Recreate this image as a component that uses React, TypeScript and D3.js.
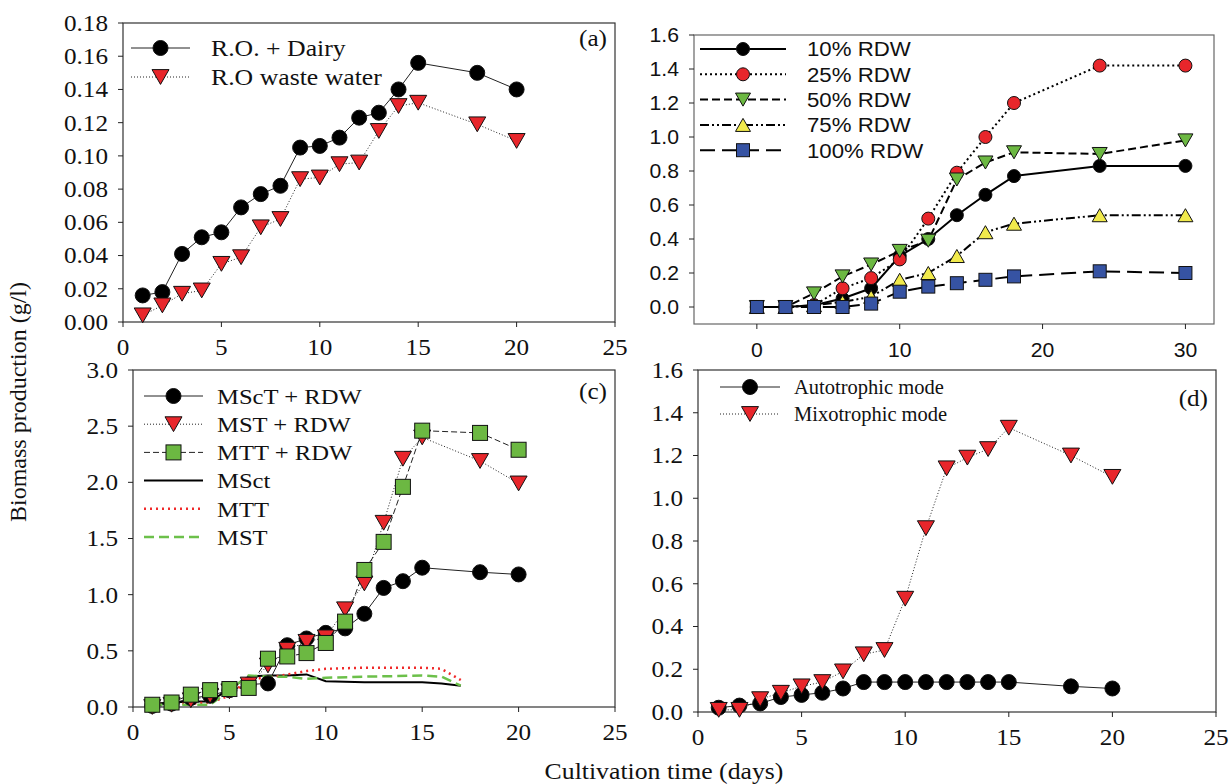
import React from 'react';
import * as d3 from 'd3';

const SERIF = '"Liberation Serif", "Times New Roman", serif';
const SANS = '"Liberation Sans", Arial, sans-serif';
const SX = 1.12; // the figure is a bit wider than tall, text too

const RED = '#e8262b';
const GREEN = '#6cb842';
const YELLOW = '#f1ea4c';
const BLUE = '#3653a3';

// (a)
const daysA = [1, 2, 3, 4, 5, 6, 7, 8, 9, 10, 11, 12, 13, 14, 15, 18, 20];
const roDairy = [0.016, 0.018, 0.041, 0.051, 0.054, 0.069, 0.077, 0.082, 0.105, 0.106, 0.111, 0.123, 0.126, 0.140, 0.156, 0.150, 0.140];
const roWaste = [0.004, 0.010, 0.017, 0.019, 0.035, 0.039, 0.057, 0.062, 0.086, 0.087, 0.095, 0.096, 0.115, 0.130, 0.132, 0.119, 0.109];

// (b)
const daysB = [0, 2, 4, 6, 8, 10, 12, 14, 16, 18, 24, 30];
const rdw10 = [0.0, 0.0, 0.01, 0.05, 0.11, 0.30, 0.40, 0.54, 0.66, 0.77, 0.83, 0.83];
const rdw25 = [0.0, 0.0, 0.01, 0.11, 0.17, 0.28, 0.52, 0.79, 1.00, 1.20, 1.42, 1.42];
const rdw50 = [0.0, 0.0, 0.08, 0.18, 0.25, 0.33, 0.39, 0.75, 0.85, 0.91, 0.90, 0.98];
const rdw75 = [0.0, 0.0, 0.01, 0.03, 0.06, 0.16, 0.20, 0.30, 0.44, 0.49, 0.54, 0.54];
const rdw100 = [0.0, 0.0, 0.0, 0.0, 0.02, 0.09, 0.12, 0.14, 0.16, 0.18, 0.21, 0.20];

// (c)
const daysC = daysA;
const msctRdw = [0.01, 0.03, 0.08, 0.10, 0.15, 0.20, 0.21, 0.55, 0.61, 0.66, 0.70, 0.83, 1.06, 1.12, 1.24, 1.20, 1.18];
const mstRdw = [0.0, 0.02, 0.06, 0.10, 0.14, 0.20, 0.37, 0.51, 0.58, 0.62, 0.87, 1.10, 1.64, 2.21, 2.40, 2.19, 1.99];
const mttRdw = [0.02, 0.04, 0.11, 0.15, 0.16, 0.17, 0.43, 0.45, 0.48, 0.57, 0.76, 1.22, 1.47, 1.96, 2.46, 2.44, 2.29];
const daysCtl = [1, 2, 3, 4, 5, 6, 7, 8, 9, 10, 12, 15, 16, 17];
const msctCtl = [0.03, 0.04, 0.05, 0.05, 0.16, 0.27, 0.28, 0.28, 0.29, 0.23, 0.22, 0.22, 0.21, 0.19];
const mttCtl = [0.03, 0.03, 0.03, 0.04, 0.10, 0.25, 0.26, 0.29, 0.32, 0.34, 0.35, 0.35, 0.34, 0.24];
const mstCtl = [0.02, 0.02, 0.02, 0.02, 0.15, 0.28, 0.27, 0.27, 0.25, 0.26, 0.27, 0.28, 0.27, 0.19];

// (d)
const daysD = daysA;
const autoMode = [0.02, 0.03, 0.04, 0.07, 0.08, 0.09, 0.11, 0.14, 0.14, 0.14, 0.14, 0.14, 0.14, 0.14, 0.14, 0.12, 0.11];
const mixoMode = [0.01, 0.01, 0.06, 0.09, 0.12, 0.14, 0.19, 0.27, 0.29, 0.53, 0.86, 1.14, 1.19, 1.23, 1.33, 1.20, 1.10];

type Series = {
  name: string;
  x: number[];
  y: number[];
  marker?: 'circle' | 'down' | 'up' | 'square';
  fill?: string;
  color: string;
  width: number;
  dash?: string;
  size?: number;
};

function Marker({ kind, cx, cy, size, fill }: any) {
  const common = { fill, stroke: '#111', strokeWidth: 1 };
  if (kind === 'circle') return <circle cx={cx} cy={cy} r={size / 2} {...common} />;
  if (kind === 'square')
    return <rect x={cx - size / 2} y={cy - size / 2} width={size} height={size} {...common} />;
  const h = size * 0.87;
  const s = size / 2;
  const d = kind === 'down'
    ? `M${cx - s},${cy - h / 2}L${cx + s},${cy - h / 2}L${cx},${cy + h / 2}Z`
    : `M${cx - s},${cy + h / 2}L${cx + s},${cy + h / 2}L${cx},${cy - h / 2}Z`;
  return <path d={d} {...common} />;
}

function Txt({ x, y, children, font, fs, anchor = 'start', sx = SX }: any) {
  return (
    <text
      transform={`translate(${x},${y}) scale(${sx},1)`}
      textAnchor={anchor}
      fontFamily={font}
      fontSize={fs}
      fill="#111"
    >
      {children}
    </text>
  );
}

function Panel(props: any) {
  const { box, xDomain, yDomain, xTicks, yTicks, yFmt, font, fs, sx, series, legend, tag, frame } = props;
  const x = d3.scaleLinear().domain(xDomain).range([box.left, box.right]);
  const y = d3.scaleLinear().domain(yDomain).range([box.bottom, box.top]);
  const line = d3.line<number>();
  const fmt = d3.format(yFmt);
  const tick = 5;

  return (
    <g>
      <rect
        x={box.left}
        y={box.top}
        width={box.right - box.left}
        height={box.bottom - box.top}
        fill="none"
        stroke={frame}
        strokeWidth={1.2}
      />
      {yTicks.map((t: number) => (
        <g key={'y' + t}>
          <line x1={box.left - tick} x2={box.left} y1={y(t)} y2={y(t)} stroke="#222" />
          <Txt x={box.left - 15} y={y(t) + fs * 0.35} font={font} fs={fs} sx={sx} anchor="end">
            {fmt(t)}
          </Txt>
        </g>
      ))}
      {xTicks.map((t: number) => (
        <g key={'x' + t}>
          <line x1={x(t)} x2={x(t)} y1={box.bottom} y2={box.bottom + tick} stroke="#222" />
          <Txt x={x(t)} y={box.bottom + 33} font={font} fs={fs} sx={sx} anchor="middle">
            {t}
          </Txt>
        </g>
      ))}
      {series.map((s: Series) => (
        <path
          key={'l' + s.name}
          d={line.x((_, i) => x(s.x[i])).y((v) => y(v))(s.y) || ''}
          fill="none"
          stroke={s.color}
          strokeWidth={s.width}
          strokeDasharray={s.dash}
        />
      ))}
      {series.map((s: Series) =>
        s.marker
          ? s.y.map((v, i) => (
              <Marker
                key={s.name + i}
                kind={s.marker}
                cx={x(s.x[i])}
                cy={y(v)}
                size={s.size}
                fill={s.fill}
              />
            ))
          : null
      )}
      {series.map((s: Series, i: number) => {
        const ly = legend.y + i * legend.dy;
        return (
          <g key={'g' + s.name}>
            <line
              x1={legend.x0}
              x2={legend.x1}
              y1={ly}
              y2={ly}
              stroke={s.color}
              strokeWidth={s.width}
              strokeDasharray={s.dash}
            />
            {s.marker && (
              <Marker kind={s.marker} cx={(legend.x0 + legend.x1) / 2} cy={ly} size={s.size} fill={s.fill} />
            )}
            <Txt x={legend.tx} y={ly + legend.fs * 0.35} font={font} fs={legend.fs} sx={legend.sx ?? sx}>
              {s.name}
            </Txt>
          </g>
        );
      })}
      {tag && (
        <Txt x={box.right - 8} y={tag.y} font={SERIF} fs={fs} sx={sx} anchor="end">
          {tag.text}
        </Txt>
      )}
    </g>
  );
}

const seriesA: Series[] = [
  { name: 'R.O. + Dairy', x: daysA, y: roDairy, marker: 'circle', fill: '#000', color: '#222', width: 1, size: 15 },
  { name: 'R.O waste water', x: daysA, y: roWaste, marker: 'down', fill: RED, color: '#222', width: 1, dash: '1,2', size: 17 },
];

const seriesB: Series[] = [
  { name: '10% RDW', x: daysB, y: rdw10, marker: 'circle', fill: '#000', color: '#000', width: 2, size: 13 },
  { name: '25% RDW', x: daysB, y: rdw25, marker: 'circle', fill: RED, color: '#000', width: 2, dash: '2,3', size: 13 },
  { name: '50% RDW', x: daysB, y: rdw50, marker: 'down', fill: GREEN, color: '#000', width: 2, dash: '8,4', size: 15 },
  { name: '75% RDW', x: daysB, y: rdw75, marker: 'up', fill: YELLOW, color: '#000', width: 2, dash: '9,3,2,3,2,3', size: 15 },
  { name: '100% RDW', x: daysB, y: rdw100, marker: 'square', fill: BLUE, color: '#000', width: 2, dash: '15,7', size: 13 },
];

const seriesC: Series[] = [
  { name: 'MScT + RDW', x: daysC, y: msctRdw, marker: 'circle', fill: '#000', color: '#222', width: 1, size: 15 },
  { name: 'MST + RDW', x: daysC, y: mstRdw, marker: 'down', fill: RED, color: '#222', width: 1, dash: '1,2', size: 17 },
  { name: 'MTT + RDW', x: daysC, y: mttRdw, marker: 'square', fill: GREEN, color: '#222', width: 1, dash: '6,3', size: 15 },
  { name: 'MSct', x: daysCtl, y: msctCtl, color: '#000', width: 2 },
  { name: 'MTT', x: daysCtl, y: mttCtl, color: '#f02a2a', width: 2.5, dash: '2,4' },
  { name: 'MST', x: daysCtl, y: mstCtl, color: '#6cc04a', width: 2.5, dash: '10,5' },
];

const seriesD: Series[] = [
  { name: 'Autotrophic mode', x: daysD, y: autoMode, marker: 'circle', fill: '#000', color: '#222', width: 1, size: 15 },
  { name: 'Mixotrophic mode', x: daysD, y: mixoMode, marker: 'down', fill: RED, color: '#222', width: 1, dash: '1,2', size: 17 },
];

const days25 = [0, 5, 10, 15, 20, 25];

export default function App() {
  return (
    <svg
      width={1230}
      height={784}
      style={{ position: 'absolute', left: 0, top: 0, background: '#fff' }}
    >
      <Panel
        box={{ left: 123, right: 615, top: 23, bottom: 322 }}
        xDomain={[0, 25]}
        yDomain={[0, 0.18]}
        xTicks={days25}
        yTicks={d3.range(0, 0.181, 0.02)}
        yFmt=".2f"
        font={SERIF}
        fs={22.5}
        sx={SX}
        frame="#333"
        series={seriesA}
        legend={{ x0: 131, x1: 190, tx: 211, y: 48, dy: 29, fs: 23 }}
        tag={{ text: '(a)', y: 46 }}
      />
      <Panel
        box={{ left: 694, right: 1214, top: 35, bottom: 324 }}
        xDomain={[-4.4, 32]}
        yDomain={[-0.1, 1.6]}
        xTicks={[0, 10, 20, 30]}
        yTicks={d3.range(0, 1.61, 0.2)}
        yFmt=".1f"
        font={SANS}
        fs={20}
        sx={1.06}
        frame="#666"
        series={seriesB}
        legend={{ x0: 700, x1: 786, tx: 807, y: 49, dy: 25.3, fs: 21 }}
      />
      <Panel
        box={{ left: 133, right: 615, top: 370, bottom: 707 }}
        xDomain={[0, 25]}
        yDomain={[0, 3]}
        xTicks={days25}
        yTicks={d3.range(0, 3.01, 0.5)}
        yFmt=".1f"
        font={SERIF}
        fs={22.5}
        sx={SX}
        frame="#333"
        series={seriesC}
        legend={{ x0: 144, x1: 203, tx: 217, y: 396, dy: 28.2, fs: 22 }}
        tag={{ text: '(c)', y: 399 }}
      />
      <Panel
        box={{ left: 698, right: 1216, top: 370, bottom: 712 }}
        xDomain={[0, 25]}
        yDomain={[0, 1.6]}
        xTicks={days25}
        yTicks={d3.range(0, 1.61, 0.2)}
        yFmt=".1f"
        font={SERIF}
        fs={22.5}
        sx={SX}
        frame="#333"
        series={seriesD}
        legend={{ x0: 720, x1: 780, tx: 794, y: 387, dy: 27, fs: 20.5, sx: 1.0 }}
        tag={{ text: '(d)', y: 406 }}
      />
      <text
        transform="translate(26,402) rotate(-90)"
        textAnchor="middle"
        fontFamily={SERIF}
        fontSize={24}
        fill="#111"
      >
        Biomass production (g/l)
      </text>
      <Txt x={664} y={779} font={SERIF} fs={23} sx={1.12} anchor="middle">
        Cultivation time (days)
      </Txt>
    </svg>
  );
}
